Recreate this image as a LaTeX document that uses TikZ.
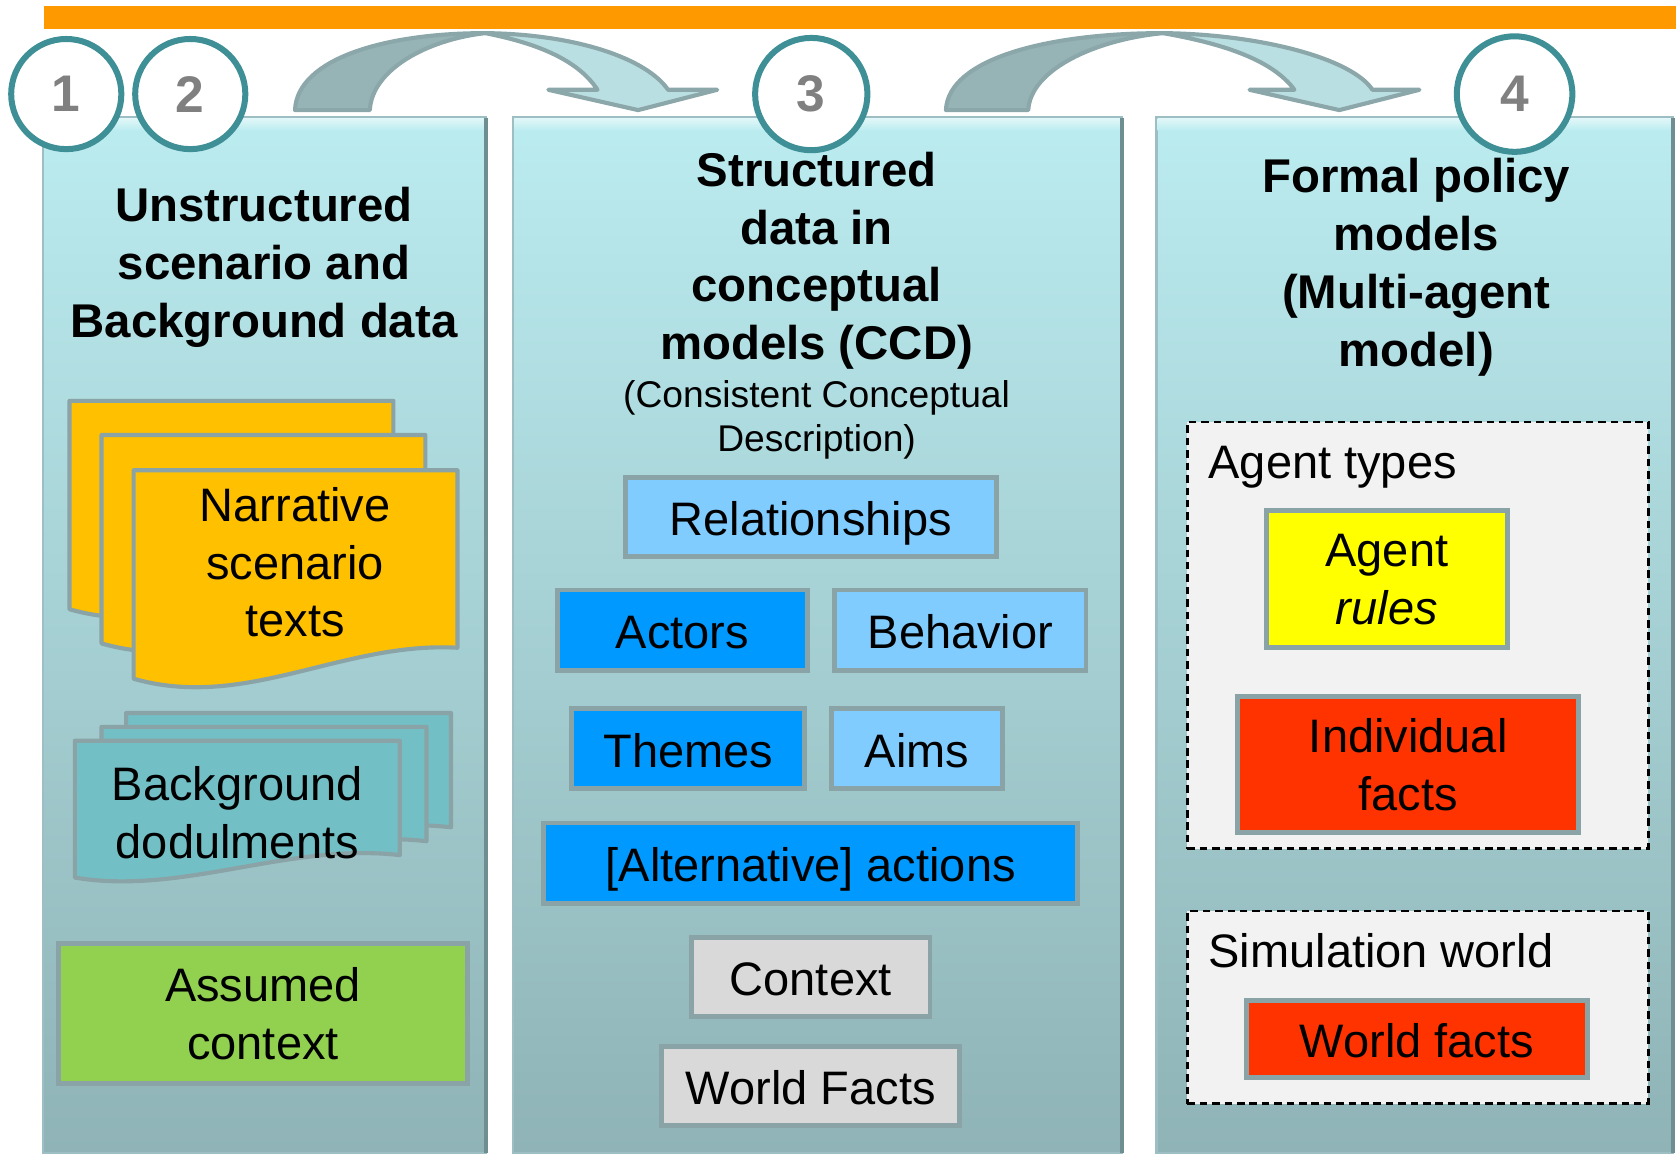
\documentclass[tikz,border=0pt]{standalone}
\usepackage{fontspec}
\setmainfont{Liberation Sans}
\usetikzlibrary{positioning}

\definecolor{barOrange}{HTML}{FF9900}
\definecolor{panelTop}{HTML}{BBECF0}
\definecolor{panelBot}{HTML}{8FB3B6}
\definecolor{panelEdge}{HTML}{9DBFC3}
\definecolor{panelShadow}{HTML}{6E8E92}
\definecolor{ringTeal}{HTML}{3F8F96}
\definecolor{numGray}{HTML}{808080}
\definecolor{arrowDark}{HTML}{96B3B5}
\definecolor{arrowLight}{HTML}{BADFE2}
\definecolor{arrowEdge}{HTML}{8BA7AA}
\definecolor{docYellow}{HTML}{FFC000}
\definecolor{docTeal}{HTML}{72BFC5}
\definecolor{boxEdge}{HTML}{8AA3A6}
\definecolor{lightBlue}{HTML}{80CCFF}
\definecolor{deepBlue}{HTML}{0099FF}
\definecolor{greyBox}{HTML}{D9D9D9}
\definecolor{greenBox}{HTML}{92D050}
\definecolor{yellowBox}{HTML}{FFFF00}
\definecolor{redBox}{HTML}{FF3300}
\definecolor{dashFill}{HTML}{F2F2F2}

\newcommand\bodytxt{\fontsize{12.5}{15.4}\selectfont}
\newcommand\headtxt{\fontsize{12.6}{15.4}\selectfont\bfseries}
\newcommand\subtxt{\fontsize{9.9}{11.7}\selectfont}

\tikzset{
  panel/.style={top color=panelTop, bottom color=panelBot, draw=panelEdge, line width=0.6pt},
  numring/.style={circle, draw=ringTeal, line width=1.6pt, fill=white, inner sep=0pt,
    font=\fontsize{13.7}{16}\selectfont\bfseries, text=numGray},
  bendpart/.style={draw=arrowEdge, line width=1.1pt, line join=round},
  docpage/.style={draw=boxEdge, line width=1.1pt, line join=round},
  colbox/.style={draw=boxEdge, line width=1.3pt, inner sep=0pt, align=center, font=\bodytxt},
  oneline/.style={colbox, text height=9.8pt, text depth=0pt},
  headline/.style={align=center, font=\headtxt, inner sep=0pt},
  groupbox/.style={draw=black, fill=dashFill, dash pattern=on 2pt off 1.3pt, line width=0.7pt, inner sep=0pt},
  plain/.style={align=center, font=\bodytxt, inner sep=0pt}
}

\begin{document}
\begin{tikzpicture}[x=0.01cm,y=-0.01cm]
  \useasboundingbox (0,0) rectangle (1568,1079);

  % orange bar
  \fill[barOrange] (41,6) rectangle (1568,27);

  % columns
  \foreach \xl/\xr in {40/455, 480/1050, 1082/1565} {
    \shade[panel] (\xl,110) rectangle (\xr,1079);
    \shade[top color=white!55!panelTop, bottom color=panelTop] (\xl+1,111) rectangle (\xr-1,122);
    \draw[panelShadow, line width=1pt] (\xr,110) -- (\xr,1079);
  }

  % bent arrows
  \draw[bendpart, fill=arrowLight] (454,31) .. controls (540,32) and (605,55) .. (625,84)
    -- (671,84) -- (597,103) -- (513,84) -- (559,84)
    .. controls (540,55) and (500,40) .. (454,31) -- cycle;
  \draw[bendpart, fill=arrowDark] (276,103) .. controls (278,55) and (360,31) .. (454,31)
    .. controls (400,37) and (348,65) .. (346,103) -- cycle;
  \draw[bendpart, fill=arrowLight] (1088,31) .. controls (1180,32) and (1265,55) .. (1284,84)
    -- (1328,84) -- (1253,103) -- (1169,84) -- (1211,84)
    .. controls (1190,55) and (1140,40) .. (1088,31) -- cycle;
  \draw[bendpart, fill=arrowDark] (885,103) .. controls (887,55) and (980,31) .. (1088,31)
    .. controls (1025,37) and (964,65) .. (962,103) -- cycle;

  % step numbers
  \node[numring, minimum size=1.03cm] (n1) at (62,88) {1};
  \node[numring, minimum size=1.03cm] (n2) at (178,88) {2};
  \node[numring, minimum size=1.05cm] (n3) at (759,88) {3};
  \node[numring, minimum size=1.08cm] (n4) at (1417,88) {4};

  % column 1
  \node[headline] (head1) at (247,250) {Unstructured\\scenario and\\Background data};
  \foreach \dx/\dy in {0/0, 30/32, 60/65} {
    \draw[docpage, fill=docYellow, shift={(\dx,\dy)}] (65,375) -- (368,375) -- (368,541)
      .. controls (260,535) and (170,600) .. (65,570) -- cycle;
  }
  \node[plain] (narr) at (276,526) {Narrative\\scenario\\texts};
  \foreach \dx/\dy in {48/-26, 25/-13, 0/0} {
    \draw[docpage, fill=docTeal, shift={(\dx,\dy)}] (70,693) -- (374,693) -- (374,800)
      .. controls (270,788) and (170,838) .. (70,821) -- cycle;
  }
  \node[plain] (backdocs) at (222,760) {Background\\dodulments};
  \node[colbox, fill=greenBox, minimum width=3.82cm, minimum height=1.31cm] (assumed) at (246,948.5) {Assumed\\context};

  % column 2
  \node[headline] (head2) at (764,244) {Structured\\data in\\conceptual\\models (CCD)};
  \node[align=center, font=\subtxt, inner sep=0pt] (ccd) at (764,392.5) {(Consistent Conceptual\\Description)};
  \node[oneline, fill=lightBlue, minimum width=3.47cm, minimum height=0.74cm] (rel) at (758.5,484) {Relationships};
  \node[oneline, fill=deepBlue, minimum width=2.33cm, minimum height=0.75cm] (actors) at (638.5,589.5) {Actors};
  \node[oneline, fill=lightBlue, minimum width=2.35cm, minimum height=0.75cm] (behav) at (898.5,589.5) {Behavior};
  \node[oneline, fill=deepBlue, minimum width=2.18cm, minimum height=0.75cm] (themes) at (644,700.5) {Themes};
  \node[oneline, fill=lightBlue, minimum width=1.60cm, minimum height=0.75cm] (aims) at (858,700.5) {Aims};
  \node[oneline, fill=deepBlue, minimum width=4.99cm, minimum height=0.75cm] (alt) at (758.5,807.5) {[Alternative] actions};
  \node[oneline, fill=greyBox, minimum width=2.23cm, minimum height=0.74cm] (ctx) at (758.5,914) {Context};
  \node[oneline, fill=greyBox, minimum width=2.79cm, minimum height=0.74cm] (wfacts) at (758.5,1016) {World Facts};

  % column 3
  \node[headline] (head3) at (1325,250) {Formal policy\\models\\(Multi-agent\\model)};
  \node[groupbox, minimum width=4.31cm, minimum height=3.99cm] (agtypes) at (1326.5,594.5) {};
  \node[plain, anchor=west] (agtlabel) at (1130,437) {Agent types};
  \node[colbox, fill=yellowBox, minimum width=2.25cm, minimum height=1.28cm] (rules) at (1297.5,542) {Agent\\\textit{rules}};
  \node[colbox, fill=redBox, minimum width=3.19cm, minimum height=1.27cm] (indiv) at (1317.5,715.5) {Individual\\facts};
  \node[groupbox, minimum width=4.31cm, minimum height=1.80cm] (simworld) at (1326.5,942.5) {};
  \node[plain, anchor=west] (simlabel) at (1130,889) {Simulation world};
  \node[oneline, fill=redBox, minimum width=3.19cm, minimum height=0.72cm] (worldf) at (1325.5,972) {World facts};
\end{tikzpicture}
\end{document}
